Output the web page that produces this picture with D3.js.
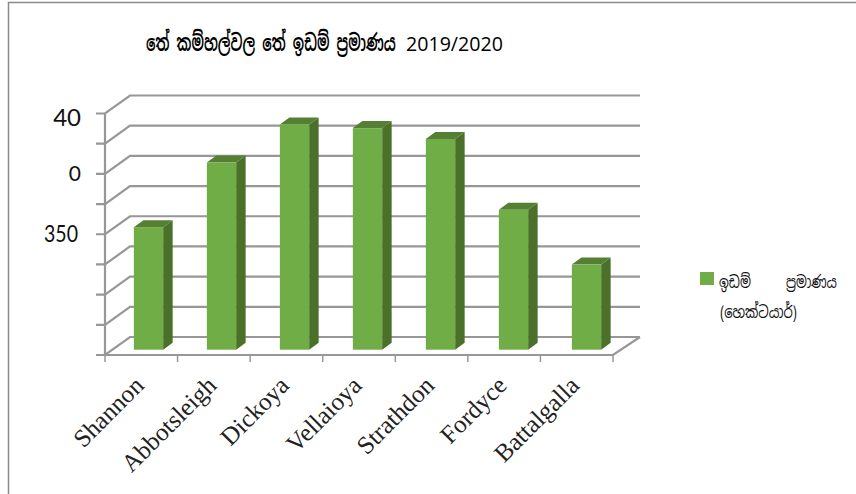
<!DOCTYPE html>
<html><head><meta charset="utf-8">
<script src="https://cdn.jsdelivr.net/npm/d3@7"></script>
<style>html,body{margin:0;padding:0;background:#fff}svg{display:block}</style>
</head><body><svg id="c" width="856" height="494"></svg>
<script>
const categories = ["Shannon","Abbotsleigh","Dickoya","Vellaioya","Strathdon","Fordyce","Battalgalla"];
const areaValues = [203,310,373,367,349,232,141];
const tickValues = [0,50,100,150,200,250,300,350,400];
const tickLabels = {200:"350",300:"0",400:"40"};
const titleSinhala = "තේ කම්හල්වල තේ ඉඩම් ප්‍රමාණය";
const titleYear = "2019/2020";
const legendLine1 = ["ඉඩම්","ප්‍රමාණය"];
const legendLine2 = "(හෙක්ටයාර්)";

const svg = d3.select("#c");
const sinhala = "'Noto Sans Sinhala','Iskoola Pota','Noto Sans','DejaVu Sans',sans-serif";
const x = d3.scaleBand().domain(categories).range([105,613]);
const xBar = d3.scaleBand().domain(categories).range([112,623]);
const y = d3.scaleLinear().domain([0,400]).range([355,113.5]);
const wallDx = 25, wallDy = -18;
const barDy = -5.3, sideDx = 9.5, sideDy = -7, barW = 29.3;
const grid = "#979797", front="#70ad47", side="#4a7029", top_="#558033";

svg.append("path").attr("d","M8.5,494V2.5H856").attr("fill","none").attr("stroke","#8a8a8a").attr("stroke-width",1.5);

const g = svg.append("g").attr("fill","none").attr("stroke",grid).attr("stroke-width",2.2);
tickValues.forEach(t=>{
  const p = d3.path();
  p.moveTo(96,y(t)); p.lineTo(105,y(t)); p.lineTo(105+wallDx,y(t)+wallDy); p.lineTo(640,y(t)+wallDy);
  g.append("path").attr("d",p.toString());
});
g.append("path").attr("d",`M105,${y(400)}V${y(0)}H613L640,${y(0)+wallDy}`);
x.domain().forEach(c=>g.append("line").attr("x1",x(c)).attr("x2",x(c)).attr("y1",y(0)).attr("y2",362).attr("stroke-width",1.5));
g.append("line").attr("x1",613).attr("x2",613).attr("y1",y(0)).attr("y2",362).attr("stroke-width",1.5);

const bars = svg.append("g").selectAll("g").data(categories.map((c,i)=>({c,v:areaValues[i]}))).join("g");
const bx = d=>xBar(d.c)+xBar.bandwidth()/2-barW/2;
const by = d=>y(d.v)+barDy;
const base = y(0)+barDy;
bars.append("path").attr("fill",side).attr("d",d=>`M${bx(d)+barW},${by(d)}l${sideDx},${sideDy}V${base+sideDy}l${-sideDx},${-sideDy}Z`);
bars.append("path").attr("fill",top_).attr("d",d=>`M${bx(d)},${by(d)}l${sideDx},${sideDy}h${barW}l${-sideDx},${-sideDy}Z`);
bars.append("rect").attr("fill",front).attr("x",bx).attr("y",by).attr("width",barW).attr("height",d=>base-by(d));

const tickG = svg.append("g").attr("font-family","Lato,'Open Sans',sans-serif").attr("fill","#111");
tickG.append("text").attr("x",81).attr("y",y(400)+12).attr("text-anchor","end").attr("font-size",24).text(tickLabels[400]);
tickG.append("text").attr("x",81).attr("y",y(300)+7).attr("text-anchor","end").attr("font-size",21).text(tickLabels[300]);
tickG.append("text").attr("x",44).attr("y",y(200)+8).attr("font-size",23).attr("textLength",34).attr("lengthAdjust","spacingAndGlyphs").text(tickLabels[200]);

svg.append("g").selectAll("text").data(categories).join("text")
  .attr("transform",c=>`translate(${x(c)+x.bandwidth()/2+4},387) rotate(-45)`)
  .attr("text-anchor","end").attr("font-family","'Liberation Serif',serif").attr("font-size",25).attr("fill","#222").text(c=>c);

// condensed Sinhala run: squeeze horizontally to the measured width in the reference
function condensed(sel, px, py, width){
  const natural = sel.node().getComputedTextLength();
  sel.attr("transform",`translate(${px},${py}) scale(${width/natural},1)`);
}
const titleG = svg.append("g").attr("fill","#000");
titleG.append("text").attr("font-family",sinhala).attr("font-size",23).attr("font-weight",600).text(titleSinhala).call(condensed,146,51,250);
titleG.append("text").attr("font-family","'Open Sans',sans-serif").attr("font-size",20).text(titleYear).call(condensed,406,51,97);

svg.append("rect").attr("x",700).attr("y",272).attr("width",14).attr("height",13).attr("fill",front);
const leg = svg.append("g").attr("font-family",sinhala).attr("font-size",17).attr("fill","#111");
leg.append("text").text(legendLine1[0]).call(condensed,719,288,32);
leg.append("text").text(legendLine1[1]).call(condensed,786,288,51);
leg.append("text").text(legendLine2).call(condensed,720,318,77);
</script></body></html>
